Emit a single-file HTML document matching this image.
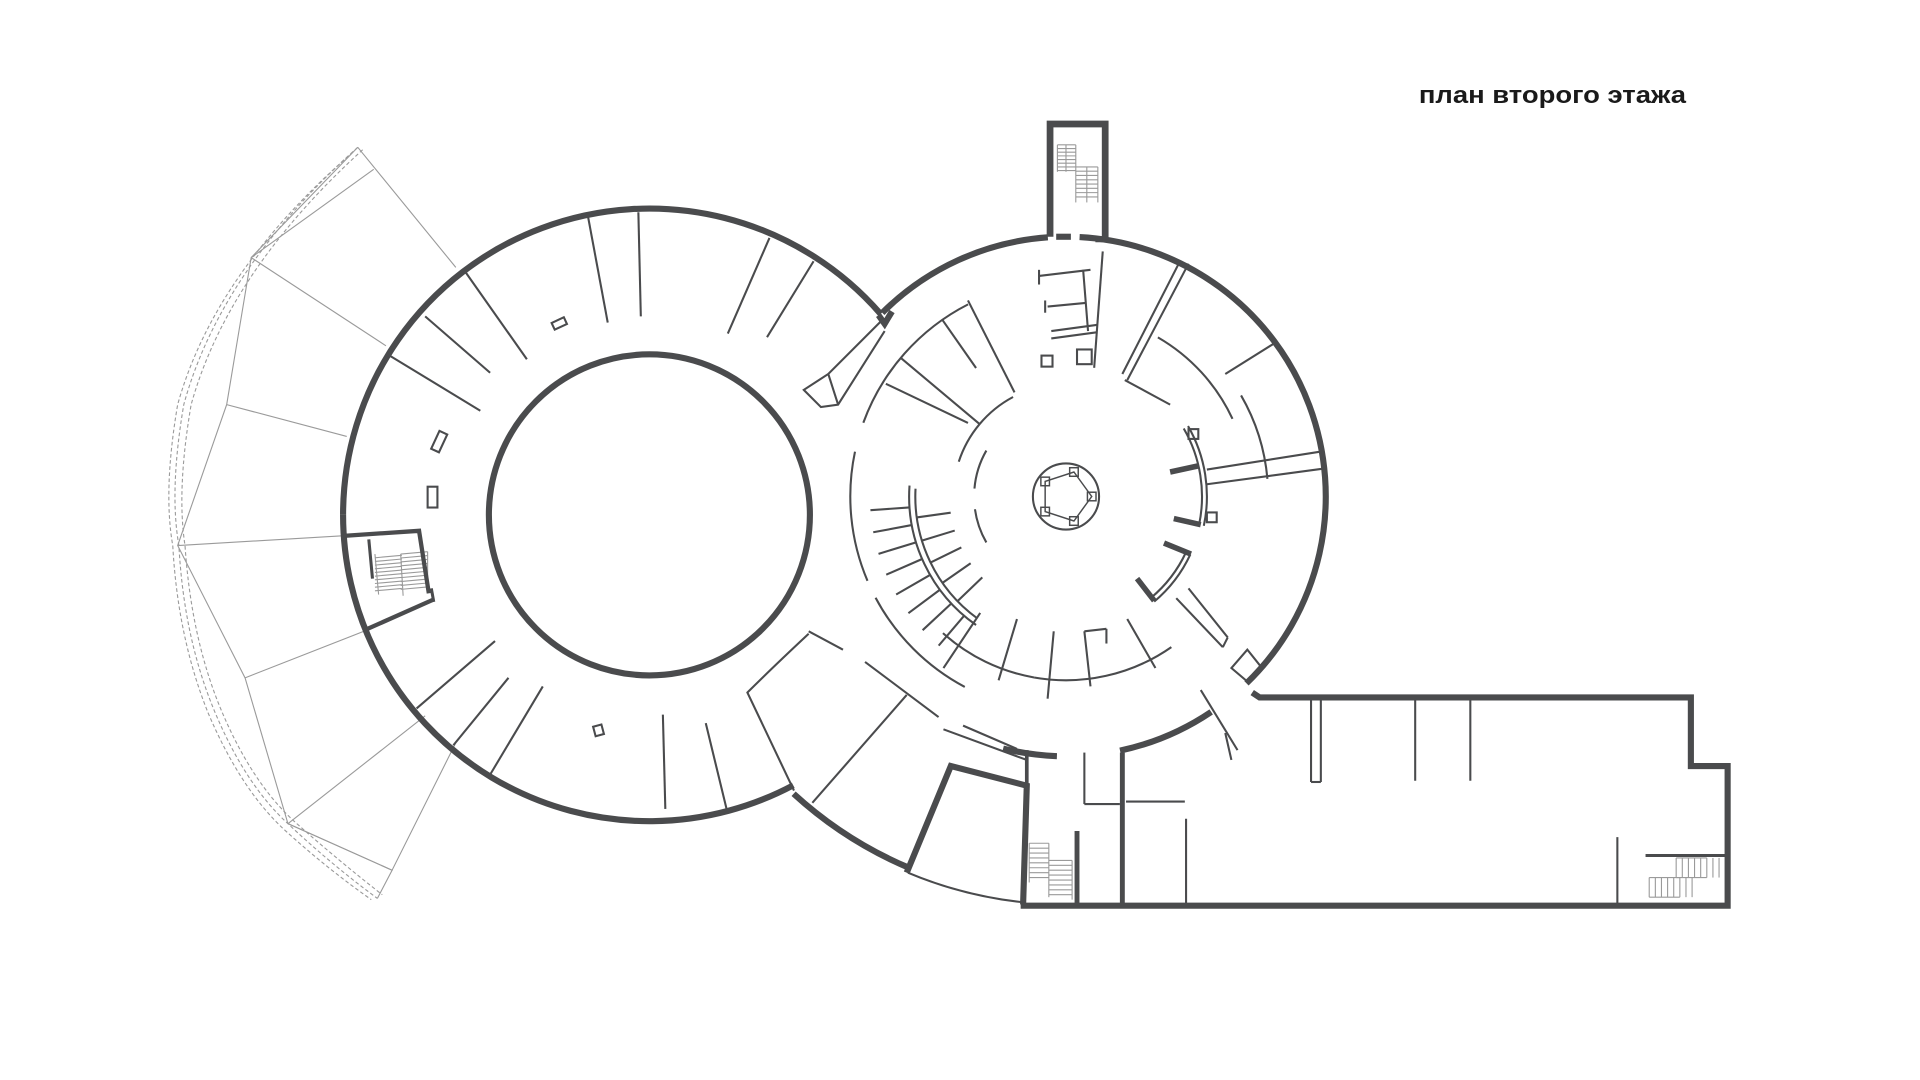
<!DOCTYPE html>
<html><head><meta charset="utf-8"><style>
html,body{margin:0;padding:0;background:#fff;width:1920px;height:1080px;overflow:hidden}
svg{display:block}
</style></head><body>
<svg id="s" width="1920" height="1080" viewBox="0 0 1567 881" xmlns="http://www.w3.org/2000/svg">
<g id="fan" fill="none" stroke="#9a9a9a" stroke-width="0.9"></g>
<g id="thin" fill="none" stroke="#4a4b4d" stroke-width="1.7"></g>
<g id="thick" fill="none" stroke="#4a4b4d" stroke-width="5"></g>
<text x="1158" y="84" font-family="Liberation Sans, sans-serif" font-weight="bold" font-size="20" fill="#1a1a1a" textLength="218" lengthAdjust="spacingAndGlyphs">план второго этажа</text>
</svg>
<script>
var NS="http://www.w3.org/2000/svg";
function add(g,tag,attrs){var e=document.createElementNS(NS,tag);for(var k in attrs)e.setAttribute(k,attrs[k]);document.getElementById(g).appendChild(e);return e;}
function P(g,d,extra){var a={d:d};if(extra)for(var k in extra)a[k]=extra[k];return add(g,'path',a);}
function L(g,x1,y1,x2,y2,w){var a={d:'M'+x1+' '+y1+'L'+x2+' '+y2};if(w)a['stroke-width']=w;return add(g,'path',a);}
function pt(cx,cy,r,a){a=a*Math.PI/180;return [cx+r*Math.cos(a),cy+r*Math.sin(a)];}
function arcD(cx,cy,r,a1,a2){var p=pt(cx,cy,r,a1),q=pt(cx,cy,r,a2);var large=Math.abs(a2-a1)>180?1:0;var sw=a2>a1?1:0;return 'M'+p[0].toFixed(1)+' '+p[1].toFixed(1)+'A'+r+' '+r+' 0 '+large+' '+sw+' '+q[0].toFixed(1)+' '+q[1].toFixed(1);}
function A(g,cx,cy,r,a1,a2,w){var e=P(g,arcD(cx,cy,r,a1,a2));if(w)e.setAttribute('stroke-width',w);return e;}
function R(g,cx,cy,r1,r2,a,w){var p=pt(cx,cy,r1,a),q=pt(cx,cy,r2,a);return L(g,p[0].toFixed(1),p[1].toFixed(1),q[0].toFixed(1),q[1].toFixed(1),w);}
// ===== LEFT CIRCLE =====
var LX=530,LY=420;
A('thick',LX,LY,250,-41,-180);
A('thick',LX,LY,250,180,62);
add('thick','circle',{cx:LX,cy:LY,r:131});
[[480,177,496,263],[521,173,523,258],[628,194,594,272],[664,213,626,275],[380,222,430,293],[347,258,400,304],[318,290,392,335],
 [340,578,404,523],[370,608,415,553],[400,632,443,560],[543,660,541,583],[593,660,576,590]].forEach(function(l){L('thin',l[0],l[1],l[2],l[3]);});
add('thin','rect',{x:451,y:261,width:11,height:6,transform:'rotate(-25 456 264)'});
add('thin','rect',{x:355,y:352,width:7,height:16,transform:'rotate(25 358 360)'});
add('thin','rect',{x:349,y:397,width:8,height:17});
add('thin','rect',{x:485,y:592,width:7,height:8,transform:'rotate(-15 488 596)'});
P('thick','M282 437L342 433L350 484',{'stroke-width':3.5});
P('thick','M300 513L354 489',{'stroke-width':3.5});
L('thin',301,440,304,472,2.5);
L('thin',352,480,354,491,2.5);
(function(){for(var i=0;i<10;i++){L('fan',306,455+i*3,328,453+i*3);L('fan',327,452+i*3.2,349,450+i*3.2);}L('fan',306,452,309,485);L('fan',327,452,329,486);L('fan',349,450,349,482);})();
P('thin','M719 262L676 305L656 318L670 332L684 330L722 270');
P('thin','M676 305L684 330');
// ===== FAN canopy =====
P('fan','M292 120L205 210L185 330L145 445L200 553L235 672L320 710L308 733');
P('fan','M292 120L372 218');P('fan','M305 138L205 210');P('fan','M205 210L315 282');
P('fan','M185 330L283 356');P('fan','M145 445L281 437');P('fan','M200 553L297 515');
P('fan','M235 672L347 584');P('fan','M235 672L320 710L372 606');
P('fan','M292 120Q180 220 150 330Q138 400 146 445Q150 520 175 580Q200 640 235 672Q270 705 308 733',{'stroke-dasharray':'3 2'});
P('fan','M288 124Q175 222 145 330Q133 400 141 445Q145 520 170 582Q196 643 231 676Q266 708 303 734',{'stroke-dasharray':'3 2'});
P('fan','M296 122Q186 222 156 330Q144 400 151 445Q156 520 180 578Q205 638 240 670Q276 702 312 730',{'stroke-dasharray':'3 2'});
// ===== RIGHT CIRCLE =====
var CX=870,CY=405;
A('thick',CX,CY,212,-135,-94);
A('thick',CX,CY,212,-87,46);
P('thick','M717 257L722 264L728 254');
P('thick','M857 193L857 101L902 101L902 195',{'stroke-width':5.5});
L('thick',862,193,874,193);L('thick',894,195,900,195);
(function(){for(var i=0;i<8;i++){L('fan',863,118+i*3,878,118+i*3);L('fan',878,136+i*3.5,896,136+i*3.5);}L('fan',863,118,863,140);L('fan',870,118,870,140);L('fan',878,118,878,165);L('fan',887,136,887,165);L('fan',896,136,896,165);})();
A('thick',CX,CY,212,56,78);
A('thick',CX,CY,212,92,104);
A('thick',CX,CY,329,132.5,112.8);
A('thin',CX,CY,333,112.8,96);
P('thick','M740 712L776 625L838 641L835 738');
P('thick','M1022 565L1028 569L1380 569L1380 625L1410 625L1410 739L833 739',{'stroke-width':5});
L('thick',916,614,916,739,4);
L('thick',879,678,879,739,4);
L('thick',838,612,838,645,3);
L('thin',885,614,885,656);L('thin',885,656,914,656);L('thin',919,654,967,654);L('thin',968,668,968,738);
L('thin',1070,570,1070,638);L('thin',1078,570,1078,638);L('thin',1070,638,1078,638);
L('thin',1155,570,1155,637);L('thin',1200,570,1200,637);L('thin',1320,683,1320,738);
L('thin',1343,698,1408,698,2.5);
(function(){for(var i=0;i<8;i++){L('fan',840,688+i*4,856,688+i*4);L('fan',856,702+i*4,875,702+i*4);L('fan',1368+i*5,700,1368+i*5,716);L('fan',1346+i*5,716,1346+i*5,732);}
L('fan',840,688,840,720);L('fan',856,688,856,732);L('fan',875,702,875,734);L('fan',1368,700,1393,700);L('fan',1368,716,1393,716);L('fan',1346,716,1371,716);L('fan',1346,732,1371,732);})();
L('thin',663,655,740,567);L('thin',706,540,766,585);L('thin',660,515,688,530);
P('thin','M660 517Q630 545 610 565L648 645');
L('thin',770,595,838,620);L('thin',786,592,830,611);
L('thin',980,563,1010,612);L('thin',1000,598,1005,620);
add('thin','circle',{cx:CX,cy:CY,r:27});
(function(){var d='';for(var i=0;i<5;i++){var p=pt(CX,CY,21,-90+i*72+18);d+=(i?'L':'M')+p[0].toFixed(1)+' '+p[1].toFixed(1);
 add('thin','rect',{x:(p[0]-3.5).toFixed(1),y:(p[1]-3.5).toFixed(1),width:7,height:7,'stroke-width':1.2});}P('thin',d+'Z',{'stroke-width':1.2});})();
A('thin',CX,CY,176,-160,-117);
A('thin',CX,CY,176,157,192);
A('thin',CX,CY,176,118,152);
A('thin',CX,CY,128,125,184);
A('thin',CX,CY,123,126,183);
A('thin',CX,CY,92,-162,-118);
A('thin',CX,CY,75,-175,-150);A('thin',CX,CY,75,150,172);
A('thin',CX,CY,150,55,100);A('thin',CX,CY,150,100,132);
A('thin',CX,CY,115,-30,12);A('thin',CX,CY,111,-30,12);
A('thin',CX,CY,112,25,50);A('thin',CX,CY,108,25,50);
A('thin',CX,CY,150,-60,-25);A('thin',CX,CY,165,-30,-5);
R('thin',CX,CY,176,128,-125);R('thin',CX,CY,176,92,-140);
L('thin',723,313,790,345);L('thin',790,245,828,320);
for(var a=176;a>=128;a-=6.5){R('thin',CX,CY,160,128,a);}
for(var a=172;a>=135;a-=9){R('thin',CX,CY,123,95,a);}
L('thick',955,385,978,380,4.5);L('thick',958,423,980,428,4.5);L('thick',950,443,972,452,4.5);L('thick',928,472,942,490,4.5);
L('thin',970,215,920,310);L('thin',962,215,916,305);L('thin',918,310,955,330);
L('thin',1000,305,1040,280);
L('thin',985,383,1080,368);L('thin',985,395,1082,382);
L('thin',960,488,998,528);L('thin',970,480,1002,520);L('thin',998,528,1002,520);
P('thin','M1005 545L1018 530L1030 545L1018 556Z');
add('thin','rect',{x:970,y:350,width:8,height:8});add('thin','rect',{x:985,y:418,width:8,height:8});
L('thin',920,505,943,545);L('thin',885,515,890,560);L('thin',885,515,903,513);L('thin',903,513,903,525);
L('thin',860,515,855,570);L('thin',830,505,815,555);L('thin',800,500,770,545);
L('thin',900,205,893,300);L('thin',848,225,890,220);L('thin',884,220,888,270);L('thin',855,250,886,247);
L('thin',858,270,895,265);L('thin',858,276,895,271);L('thin',848,220,848,232);L('thin',853,245,853,255);
add('thin','rect',{x:850,y:290,width:9,height:9});add('thin','rect',{x:879,y:285,width:12,height:12});
</script>
</body></html>
